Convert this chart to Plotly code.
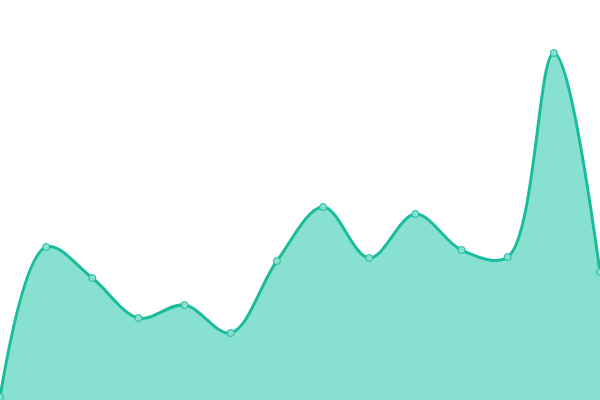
import plotly.graph_objects as go

# point index along the x axis (0 = bottom edge)
idx = list(range(14))
values = [3, 153, 122, 82, 95, 67, 139, 193, 142, 186, 150, 143, 347, 128]

line_color = '#1abc9c'
fill_color = '#88e0d0'

fig = go.Figure()

fig.add_trace(go.Scatter(
    x=idx,
    y=values,
    mode='lines+markers',
    line=dict(color=line_color, width=3, shape='spline', smoothing=1),
    fill='tozeroy',
    fillcolor=fill_color,
    marker=dict(size=7, color=fill_color, line=dict(color=line_color, width=1)),
    cliponaxis=True,
    hoverinfo='skip'
))

fig.update_layout(
    width=600,
    height=400,
    margin=dict(l=0, r=0, t=0, b=0),
    paper_bgcolor='white',
    plot_bgcolor='white',
    showlegend=False,
    xaxis=dict(range=[0, 13], visible=False),
    yaxis=dict(range=[0, 400], visible=False)
)

# drop the default body margin so the chart fills the window
fig.write_html("out.html", config={'displayModeBar': False},
               post_script="document.body.style.margin='0';")
